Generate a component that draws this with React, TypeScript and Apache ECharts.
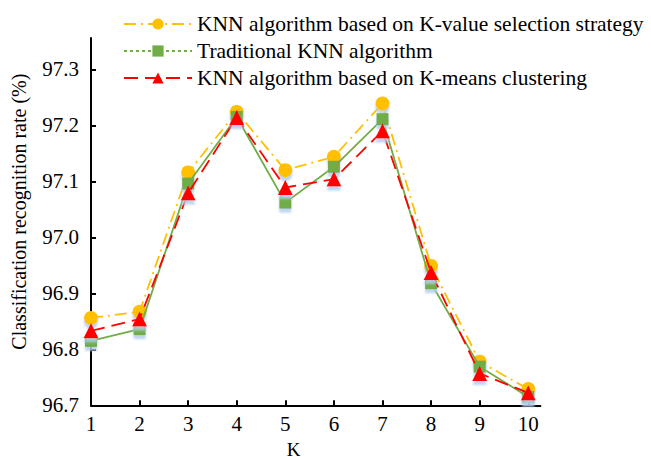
import React, { useEffect, useRef } from "react";
import * as echarts from "echarts";

const kValues = [1, 2, 3, 4, 5, 6, 7, 8, 9, 10];
const seriesNames = [
  "KNN algorithm based on K-value selection strategy",
  "Traditional KNN algorithm",
  "KNN algorithm based on K-means clustering",
];
const kValueStrategy = [96.856, 96.867, 97.116, 97.224, 97.12, 97.144, 97.239, 96.949, 96.778, 96.729];
const traditionalKnn = [96.815, 96.836, 97.096, 97.215, 97.062, 97.126, 97.211, 96.918, 96.769, 96.715];
const kMeansKnn = [96.833, 96.854, 97.079, 97.214, 97.089, 97.104, 97.19, 96.937, 96.757, 96.722];
const yTicks = [96.7, 96.8, 96.9, 97.0, 97.1, 97.2, 97.3];

const FONT = "'Liberation Serif', 'Times New Roman', serif";
const shadow = { shadowColor: "rgba(180,205,235,0.85)", shadowBlur: 2, shadowOffsetY: 4 };

export default function App() {
  const ref = useRef<HTMLDivElement>(null);
  useEffect(() => {
    if (!ref.current) return;
    const chart = echarts.init(ref.current, null, { renderer: "svg" });
    const mk = (vals: number[]) => vals.map((v, i) => [kValues[i], v]);
    chart.setOption({
      animation: false,
      backgroundColor: "#fff",
      textStyle: { fontFamily: FONT },
      grid: {
        left: 91,
        right: 110.6,
        top: 38,
        bottom: 51.7,
        containLabel: false,
        outerBoundsMode: "none",
      },
      legend: {
        orient: "vertical",
        left: 118,
        top: 8,
        itemWidth: 68,
        itemHeight: 14,
        itemGap: 5,
        textStyle: { fontFamily: FONT, fontSize: 21.5, color: "#000" },
        data: [
          { name: seriesNames[0] },
          { name: seriesNames[1], lineStyle: { type: [3, 3] } },
          { name: seriesNames[2] },
        ],
      },
      xAxis: {
        type: "value",
        min: 1,
        max: 10.25,
        interval: 1,
        name: "K",
        nameLocation: "middle",
        nameGap: 29,
        nameTextStyle: { fontFamily: FONT, fontSize: 19, lineHeight: 20, color: "#000", padding: [0, 44, 0, 0] },
        axisLine: { lineStyle: { color: "#000", width: 2 } },
        axisTick: { inside: true, length: 5, lineStyle: { color: "#000", width: 2 }, customValues: kValues },
        axisLabel: { fontFamily: FONT, fontSize: 21, color: "#000", margin: 8, customValues: kValues },
        splitLine: { show: false },
      },
      yAxis: {
        type: "value",
        min: 96.7,
        max: 97.356,
        name: "Classification recognition rate (%)",
        nameLocation: "middle",
        nameGap: 62,
        nameTextStyle: { fontFamily: FONT, fontSize: 20, color: "#000", padding: [0, 0, 0, 20] },
        axisLine: { show: true, lineStyle: { color: "#000", width: 2 } },
        axisTick: { show: true, inside: true, length: 5, lineStyle: { color: "#000", width: 2 }, customValues: yTicks },
        axisLabel: {
          fontFamily: FONT,
          fontSize: 21,
          color: "#000",
          margin: 12,
          customValues: yTicks,
          formatter: (v: number) => v.toFixed(1),
        },
        splitLine: { show: false },
      },
      series: [
        {
          name: seriesNames[0],
          type: "line",
          data: mk(kValueStrategy),
          symbol: "circle",
          symbolSize: 14,
          z: 3,
          lineStyle: { color: "#FFC000", width: 1.8, type: [12, 5, 2, 5] },
          itemStyle: { color: "#FFC000", ...shadow },
        },
        {
          name: seriesNames[1],
          type: "line",
          data: mk(traditionalKnn),
          symbol: "rect",
          symbolSize: 12,
          z: 4,
          lineStyle: { color: "#70AD47", width: 1.8, type: "solid" },
          itemStyle: { color: "#70AD47", ...shadow },
        },
        {
          name: seriesNames[2],
          type: "line",
          data: mk(kMeansKnn),
          symbol: "triangle",
          symbolSize: 15,
          z: 5,
          lineStyle: { color: "#FF0000", width: 1.8, type: [14, 7] },
          itemStyle: { color: "#FF0000", ...shadow },
        },
      ],
    });
    return () => chart.dispose();
  }, []);
  return <div ref={ref} style={{ position: "fixed", left: 0, top: 0, width: 651, height: 457 }} />;
}
